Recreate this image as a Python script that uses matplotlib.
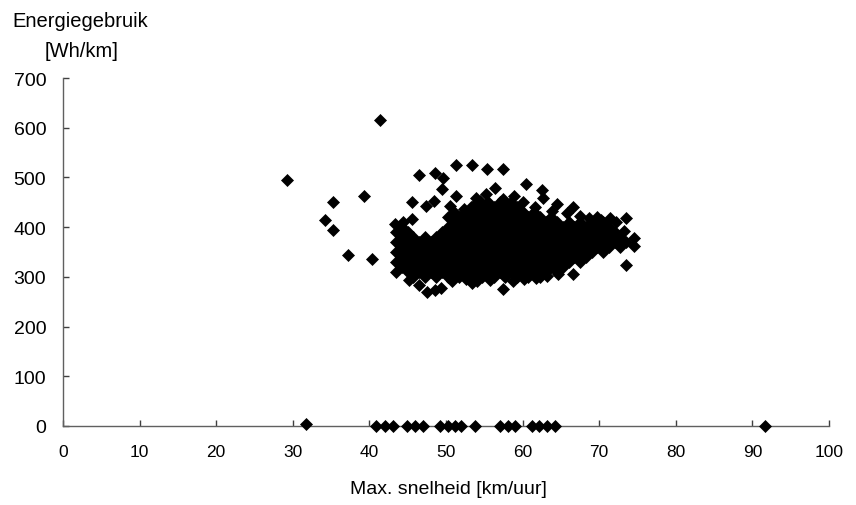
import matplotlib
matplotlib.use("Agg")
import matplotlib.pyplot as plt

plt.rcParams["font.family"] = ["Liberation Sans", "DejaVu Sans"]

# ── Data ──────────────────────────────────────────────────────────────────
# dense core of the cloud: y level -> max. speeds
core_rows = {
    300: [45.75, 47.25, 48.75, 50.25, 51.75, 53.25, 54.75, 56.25, 57.75, 59.25, 60.75, 62.25],
    310: [43.5, 45, 46.5, 48, 49.5, 51, 52.5, 54, 55.5, 57, 58.5, 60, 61.5, 63, 64.5],
    320: [44.25, 45.75, 47.25, 48.75, 50.25, 51.75, 53.25, 54.75, 56.25, 57.75, 59.25,
          60.75, 62.25, 63.75, 65.25],
    330: [43.5, 45, 46.5, 48, 49.5, 51, 52.5, 54, 55.5, 57, 58.5, 60, 61.5, 63, 64.5, 66, 67.5],
    340: [44.25, 45.75, 47.25, 48.75, 50.25, 51.75, 53.25, 54.75, 56.25, 57.75, 59.25,
          60.75, 62.25, 63.75, 65.25, 66.75, 68.25],
    350: [43.5, 45, 46.5, 48, 49.5, 51, 52.5, 54, 55.5, 57, 58.5, 60, 61.5, 63, 64.5, 66,
          67.5, 69, 70.5],
    360: [44.25, 45.75, 47.25, 48.75, 50.25, 51.75, 53.25, 54.75, 56.25, 57.75, 59.25,
          60.75, 62.25, 63.75, 65.25, 66.75, 68.25, 69.75, 71.25, 72.75],
    370: [43.5, 45, 46.5, 48, 49.5, 51, 52.5, 54, 55.5, 57, 58.5, 60, 61.5, 63, 64.5, 66,
          67.5, 69, 70.5, 72, 73.5],
    380: [44.25, 45.75, 47.25, 48.75, 50.25, 51.75, 53.25, 54.75, 56.25, 57.75, 59.25,
          60.75, 62.25, 63.75, 65.25, 66.75, 68.25, 69.75, 71.25, 72.75],
    390: [43.5, 45, 49.5, 51, 52.5, 54, 55.5, 57, 58.5, 60, 61.5, 63, 64.5, 66, 67.5, 69,
          70.5, 72],
    400: [44.25, 50.25, 51.75, 53.25, 54.75, 56.25, 57.75, 59.25, 60.75, 62.25, 63.75,
          65.25, 66.75, 68.25, 69.75, 71.25],
    410: [51, 52.5, 54, 55.5, 57, 58.5, 60, 61.5, 63, 64.5, 66, 67.5, 69, 70.5],
    420: [50.25, 51.75, 53.25, 54.75, 56.25, 57.75, 59.25, 60.75, 62.25, 63.75],
    430: [51, 52.5, 54, 55.5, 57, 58.5, 60, 61.5],
    440: [53.25, 54.75, 56.25, 57.75, 59.25],
    450: [54, 55.5, 57, 58.5],
}

# loose points around the cloud
edge_x = [46.5, 48.5, 49.6, 51.3, 53.4, 55.4, 57.4, 49.5, 51.3, 45.5, 56.4, 47.4, 48.4,
          50.5, 60.4, 62.5, 62.7, 64.5, 66.6, 67.5, 69.7, 71.4, 73.5, 54.4, 43.3, 44.4,
          45.5, 52.3, 57.5,
          47.5, 48.5, 49.4, 57.4, 46.5, 66.6, 73.5, 74.5, 74.5, 73.2,
          29.3, 35.2, 39.3, 34.2, 35.2, 37.2, 40.3, 41.4,
          45.2, 50.8, 52.6, 53.4, 54.1, 55.7, 58.8, 60.2, 61.8, 63.2, 64.6,
          55.2, 53.9, 58.9, 60.1, 61.6, 63.9, 65.8, 68.7, 70.3, 72.2]
edge_y = [505, 509, 498, 526, 525, 517, 517, 477, 462, 450, 478, 443, 453,
          443, 486, 474, 459, 447, 440, 423, 420, 418, 418, 453, 406, 411,
          416, 437, 457,
          269, 274, 277, 276, 283, 306, 323, 378, 363, 392,
          494, 450, 462, 415, 395, 344, 336, 616,
          293, 292, 295, 288, 291, 294, 292, 295, 297, 301, 306,
          466, 458, 462, 450, 441, 433, 428, 418, 415, 410]

# trips with (almost) zero energy use
zero_x = [31.7, 40.9, 42.0, 43.1, 44.9, 45.9, 47.0, 49.2, 50.2, 51.2, 52.0, 53.8,
          57.0, 58.1, 59.0, 61.2, 62.2, 63.2, 64.2, 91.6]
zero_y = [4, 0, 0, 0, 0, 0, 0, 0, 0, 0, 0, 0, 0, 0, 0, 0, 0, 0, 0, 0]

x_ticks = list(range(0, 101, 10))
y_ticks = list(range(0, 701, 100))

xs, ys = [], []
for lvl, row in core_rows.items():
    xs += row
    ys += [lvl] * len(row)
xs += edge_x + zero_x
ys += edge_y + zero_y

# ── Figure ────────────────────────────────────────────────────────────────
W, H = 856, 506
fig = plt.figure(figsize=(W / 100, H / 100), dpi=100)
fig.patch.set_facecolor("white")
ax = fig.add_axes([63 / W, 1 - 427 / H, (829 - 63) / W, (427 - 79) / H])

ax.plot(xs, ys, linestyle="none", marker="D", markersize=6.4, color="black",
        markeredgewidth=0.5, clip_on=False, zorder=3)

ax.set_xlim(0, 100)
ax.set_ylim(0, 700)
ax.set_xticks(x_ticks)
ax.set_yticks(y_ticks)

ax.spines[["top", "right"]].set_visible(False)
for s in ["left", "bottom"]:
    ax.spines[s].set_color("#606060")
    ax.spines[s].set_linewidth(1.0)

ax.tick_params(axis="both", direction="in", length=4, width=1, color="#404040")
ax.tick_params(axis="x", labelsize=12.5, pad=13)
ax.tick_params(axis="y", labelsize=14, pad=12)

fig.text(12 / W, 1 - 27 / H, "Energiegebruik", fontsize=14.5, va="baseline", ha="left")
fig.text(45 / W, 1 - 57 / H, "[Wh/km]", fontsize=14.5, va="baseline", ha="left")
fig.text(448 / W, 1 - 494 / H, "Max. snelheid [km/uur]", fontsize=14,
         va="baseline", ha="center")

fig.savefig("out.png", dpi=100, facecolor="white")
